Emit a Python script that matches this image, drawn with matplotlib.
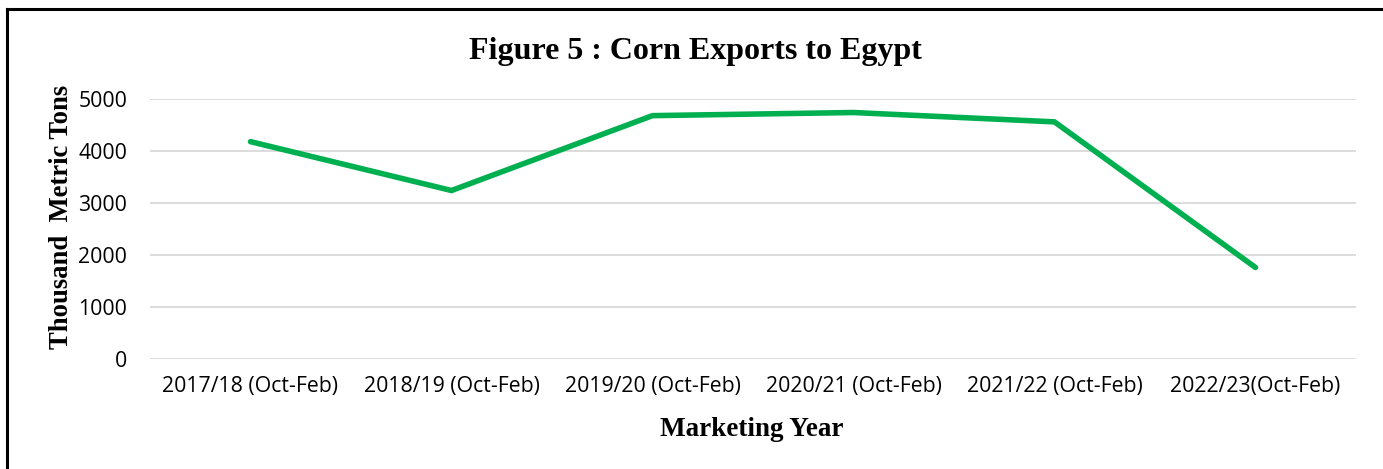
import matplotlib
matplotlib.use("Agg")
import matplotlib.pyplot as plt
from matplotlib.lines import Line2D

categories = ["2017/18 (Oct-Feb)", "2018/19 (Oct-Feb)", "2019/20 (Oct-Feb)",
              "2020/21 (Oct-Feb)", "2021/22 (Oct-Feb)", "2022/23(Oct-Feb)"]
exports = [4180, 3240, 4680, 4740, 4560, 1760]
yticks = [0, 1000, 2000, 3000, 4000, 5000]

W, H = 1383, 469
fig = plt.figure(figsize=(W / 100, H / 100), dpi=100)
ax = fig.add_axes([150 / W, 1 - 359 / H, (1356 - 150) / W, (359 - 99) / H])

x = list(range(len(categories)))
ax.plot(x, exports, color="#00B050", linewidth=4, solid_capstyle="round",
        solid_joinstyle="miter")
ax.set_xlim(-0.5, len(categories) - 0.5)
ax.set_ylim(0, 5000)
ax.set_yticks(yticks)
ax.set_yticklabels([str(v) for v in yticks])
ax.set_xticks(x)
ax.set_xticklabels(categories)
ax.grid(axis="y", color="#D9D9D9", linewidth=1.3)
ax.set_axisbelow(True)
for s in ax.spines.values():
    s.set_visible(False)
ax.tick_params(length=0, colors="black")
ax.tick_params(axis="y", pad=16.5)
ax.tick_params(axis="x", pad=12)
for lab in ax.get_xticklabels() + ax.get_yticklabels():
    lab.set_fontfamily("Open Sans")
    lab.set_fontsize(15.3)

fig.text(695 / W, 1 - 51 / H, "Figure 5 : Corn Exports to Egypt",
         ha="center", va="center", fontfamily="Liberation Serif",
         fontweight="bold", fontsize=23)
fig.text(752 / W, 1 - 429 / H, "Marketing Year", ha="center", va="center",
         fontfamily="Liberation Serif", fontweight="bold", fontsize=19.5)
fig.text(61 / W, 1 - 217 / H, "Thousand  Metric Tons", ha="center",
         va="center", rotation=90, fontfamily="Liberation Serif",
         fontweight="bold", fontsize=19.2)

# outer border (top and left visible)
fig.add_artist(Line2D([7 / W, 1], [1 - 9 / H, 1 - 9 / H], color="black",
                      linewidth=2.2, transform=fig.transFigure))
fig.add_artist(Line2D([7 / W, 7 / W], [0, 1 - 9 / H], color="black",
                      linewidth=2.2, transform=fig.transFigure))

fig.savefig("out.png", dpi=100, facecolor="white")
